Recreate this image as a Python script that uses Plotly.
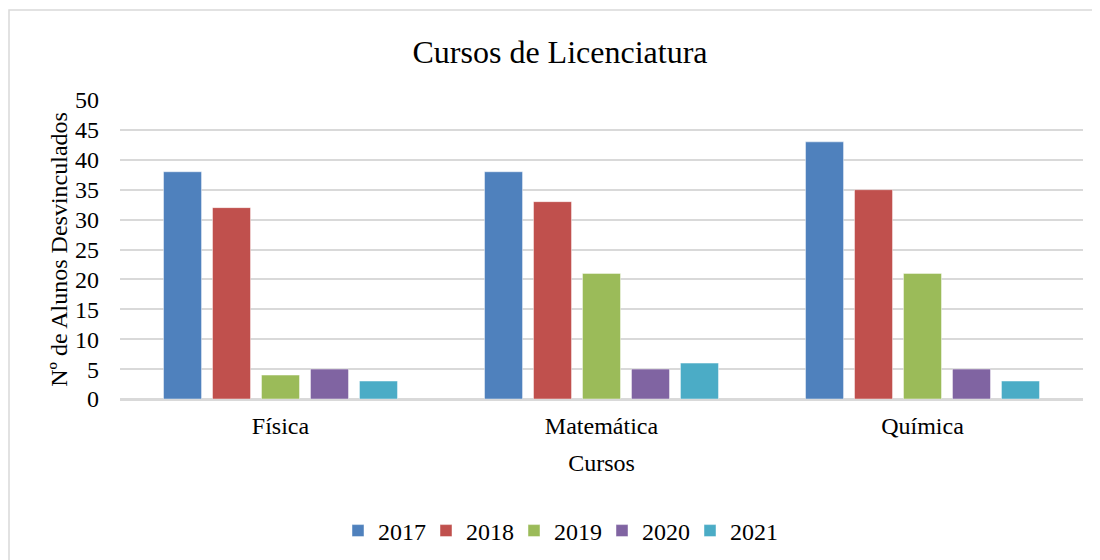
import plotly.graph_objects as go

cursos = ["Física", "Matemática", "Química"]
anos = ["2017", "2018", "2019", "2020", "2021"]
valores = {
    "2017": [38, 38, 43],
    "2018": [32, 33, 35],
    "2019": [4, 21, 21],
    "2020": [5, 5, 5],
    "2021": [3, 6, 3],
}
cores = ["#4F81BD", "#C0504D", "#9BBB59", "#8064A2", "#4BACC6"]
ticks_y = [0, 5, 10, 15, 20, 25, 30, 35, 40, 45, 50]

FONT = "Liberation Serif, Times New Roman, serif"
# page body has an 8px margin, so the figure is laid out 8px smaller / shifted
OFF = 8
W, H = 1100 - OFF, 560 - OFF
ML, MR, MT, MB = 120 - OFF, 17, 100 - OFF, 161
pw, ph = W - ML - MR, H - MT - MB

fig = go.Figure()
for ano, cor in zip(anos, cores):
    fig.add_trace(go.Bar(
        x=cursos, y=valores[ano], name=ano,
        marker=dict(color=cor, line=dict(color="rgba(255,255,255,0.45)", width=1)),
    ))


def px_x(p):
    return (p - OFF - ML) / pw


def px_y(p):
    return (H - MB - (p - OFF)) / ph


# chart border (runs off the right/bottom edge like the source)
fig.add_shape(type="rect", xref="paper", yref="paper",
              x0=px_x(OFF + 1), x1=px_x(1130), y0=px_y(590), y1=px_y(10),
              line=dict(color="#D9D9D9", width=1.5), fillcolor="rgba(0,0,0,0)", layer="below")

fig.update_layout(
    width=W, height=H,
    margin=dict(l=ML, r=MR, t=MT, b=MB),
    paper_bgcolor="white", plot_bgcolor="white",
    font=dict(family=FONT, size=24, color="black"),
    title=dict(text="Cursos de Licenciatura", font=dict(size=32, family=FONT, color="black"),
               x=(560 - OFF) / W, xanchor="center", xref="container",
               y=1 - (52 - OFF) / H, yanchor="middle", yref="container"),
    barmode="group", bargap=0.237, bargroupgap=0.224,
    showlegend=True,
    legend=dict(orientation="h", x=(558 - OFF) / W, xanchor="center", xref="container",
                y=1 - (531 - OFF) / H, yanchor="middle", yref="container",
                font=dict(size=24, family=FONT), entrywidth=43, itemwidth=30,
                traceorder="normal"),
    xaxis=dict(title=dict(text="Cursos", font=dict(size=24), standoff=17),
               showgrid=False, showline=True, linecolor="#D9D9D9", linewidth=1.5,
               ticks="", ticklabelstandoff=4, tickfont=dict(size=24)),
    yaxis=dict(title=dict(text="Nº de Alunos Desvinculados", font=dict(size=24), standoff=0),
               range=[0, 50], tickvals=ticks_y, showgrid=True, gridcolor="#D9D9D9", gridwidth=1.5,
               zeroline=True, zerolinecolor="#D9D9D9", zerolinewidth=1.5,
               showline=False, ticks="", ticklabelstandoff=20, tickfont=dict(size=24)),
)

fig.write_html("out.html")
